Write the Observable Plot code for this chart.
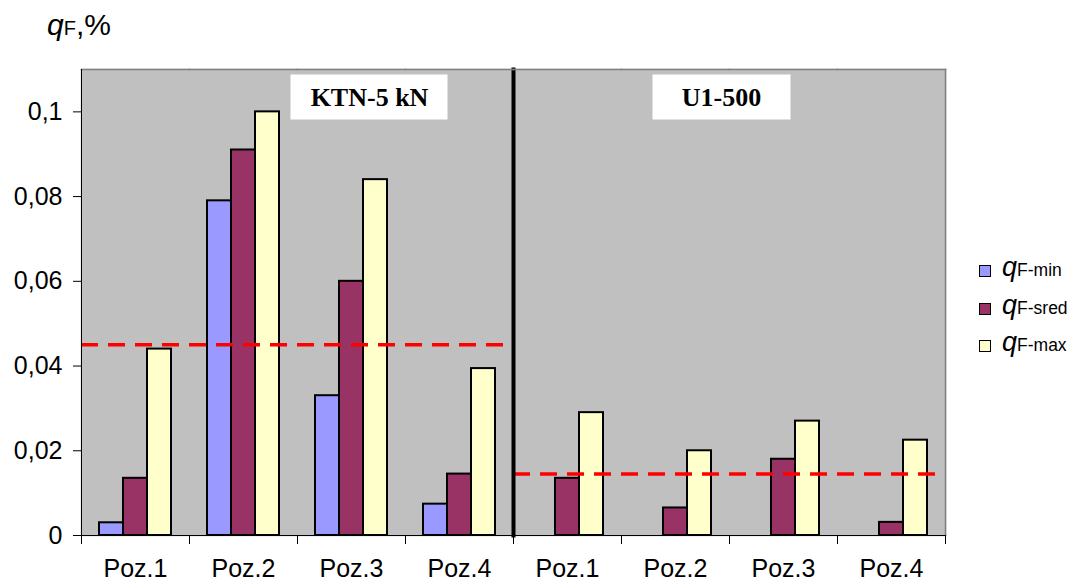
<!DOCTYPE html>
<html>
<head>
<meta charset="utf-8">
<script src="https://cdn.jsdelivr.net/npm/d3@7"></script>
<script src="https://cdn.jsdelivr.net/npm/@observablehq/plot@0.6"></script>
<style>
  html, body { margin: 0; padding: 0; background: #ffffff; }
  #wrap { position: relative; width: 1068px; height: 583px; font-family: Arial, "Liberation Sans", sans-serif; }
  #chart svg { display: block; }
  .q { font-style: italic; }
  #ytitle { position: absolute; left: 47px; top: 10px; font-size: 30px; line-height: 1; white-space: nowrap; }
  #ytitle .sub { font-size: 20px; }
  #legend { position: absolute; left: 979px; top: 255px; }
  .item { position: relative; height: 37.5px; white-space: nowrap; }
  .sw { position: absolute; left: 0; top: 10px; width: 10px; height: 10px; border: 1px solid #000; }
  .lt { position: absolute; left: 23px; top: -1px; font-size: 27px; line-height: 1; }
  .lt .sub { font-size: 17.5px; }
</style>
</head>
<body>
<div id="wrap">
  <div id="chart"></div>
  <div id="ytitle"><span class="q">q</span><span class="sub">F</span>,%</div>
  <div id="legend"></div>
</div>
<script>
// ---- data ----
const groups = ["K1", "K2", "K3", "K4", "U1", "U2", "U3", "U4"];
const groupLabels = ["Poz.1", "Poz.2", "Poz.3", "Poz.4", "Poz.1", "Poz.2", "Poz.3", "Poz.4"];
const series = ["min", "sred", "max"];
const seriesLabels = ["F-min", "F-sred", "F-max"];
const seriesColors = ["#9999ff", "#993366", "#ffffcc"];
const qMin  = [0.003, 0.079, 0.033, 0.0074, null, null, null, null];
const qSred = [0.0135, 0.091, 0.060, 0.0145, 0.0135, 0.0065, 0.018, 0.0031];
const qMax  = [0.044, 0.100, 0.084, 0.0394, 0.029, 0.020, 0.027, 0.0225];
const setupNames = ["KTN-5 kN", "U1-500"];
const setupOf = [0, 0, 0, 0, 1, 1, 1, 1];
const setupLimits = [0.045, 0.0145];
const yTicks = [0, 0.02, 0.04, 0.06, 0.08, 0.1];

// ---- tables ----
const valuesBySeries = [qMin, qSred, qMax];
const bars = [];
groups.forEach((g, i) => series.forEach((s, j) => {
  const v = valuesBySeries[j][i];
  if (v != null) bars.push({group: g, series: s, value: v});
}));
const limits = groups.map((g, i) => ({group: g, limit: setupLimits[setupOf[i]]}));
const labelOf = new Map(groups.map((g, i) => [g, groupLabels[i]]));

const serifFont = "'Times New Roman', 'Liberation Serif', serif";

const chart = Plot.plot({
  width: 1068,
  height: 583,
  marginLeft: 81,
  marginRight: 123,
  marginTop: 69,
  marginBottom: 48,
  style: {fontFamily: "Arial, 'Liberation Sans', sans-serif", background: "white", color: "black"},
  fx: {domain: groups, padding: 0, axis: null, label: null},
  x: {domain: series, paddingInner: 0, paddingOuter: 0.75, axis: null},
  y: {domain: [0, 0.11], axis: null},
  color: {domain: series, range: seriesColors},
  marks: [
    Plot.frame({fill: "#c0c0c0", stroke: "#c0c0c0", strokeWidth: 1.5}),
    Plot.barY(bars, {fx: "group", x: "series", y: "value", fill: "series", stroke: "black", strokeWidth: 2}),
    Plot.ruleY(limits, {fx: "group", y: "limit", stroke: "#ff0000", strokeWidth: 3.5, strokeDasharray: "17,10"}),
    // label boxes
    Plot.frame({fx: "K3", fill: "white", insetLeft: -7, insetRight: -42, insetTop: 5, insetBottom: 416}),
    Plot.text([setupNames[0]], {fx: ["K3"], frameAnchor: "top", dx: 18, dy: 28, lineAnchor: "middle",
      fontSize: 26, fontWeight: "bold", fontFamily: serifFont, fill: "black"}),
    Plot.frame({fx: "U2", fill: "white", insetLeft: 31, insetRight: -61, insetTop: 5, insetBottom: 416}),
    Plot.text([setupNames[1]], {fx: ["U2"], frameAnchor: "top", dx: 46, dy: 28, lineAnchor: "middle",
      fontSize: 26, fontWeight: "bold", fontFamily: serifFont, fill: "black"}),
    // divider between setups
    Plot.frame({fx: "K4", anchor: "right", stroke: "black", strokeWidth: 4}),
    // plot area borders
    Plot.frame({anchor: "top", stroke: "#808080", strokeWidth: 1.5}),
    Plot.frame({fx: "U4", anchor: "right", stroke: "#808080", strokeWidth: 1.5}),
    Plot.frame({fx: "K1", anchor: "left", stroke: "black", strokeWidth: 1}),
    Plot.frame({anchor: "bottom", stroke: "black", strokeWidth: 1}),
    // category boundary ticks
    Plot.frame({anchor: "left", stroke: "black", insetTop: 466, insetBottom: -8}),
    Plot.frame({fx: "U4", anchor: "right", stroke: "black", insetTop: 466, insetBottom: -8}),
    // axes
    Plot.axisY(yTicks, {anchor: "left", tickSize: 8, tickPadding: 11, fontSize: 25, stroke: "black",
      tickFormat: d => String(d).replace(".", ","), label: null}),
    Plot.axisFx({anchor: "bottom", tickSize: 0, tickPadding: 24, fontSize: 25,
      tickFormat: d => labelOf.get(d), label: null})
  ]
});
document.getElementById("chart").append(chart);

// legend
const legend = document.getElementById("legend");
series.forEach((s, j) => {
  const item = document.createElement("div");
  item.className = "item";
  item.innerHTML = `<div class="sw" style="background:${seriesColors[j]}"></div>` +
    `<div class="lt"><span class="q">q</span><span class="sub">${seriesLabels[j]}</span></div>`;
  legend.append(item);
});
</script>
</body>
</html>
